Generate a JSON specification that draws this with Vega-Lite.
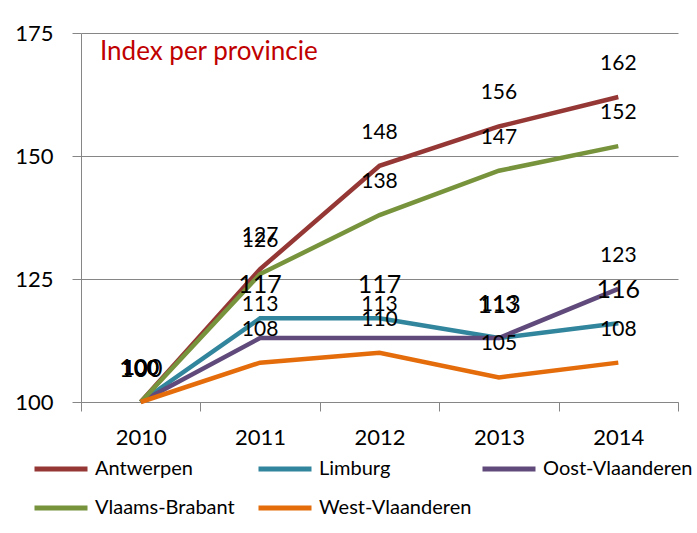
{
  "$schema": "https://vega.github.io/schema/vega-lite/v6.json",
  "width": 597,
  "height": 369,
  "autosize": "none",
  "padding": {"left": 81, "top": 33, "right": 19, "bottom": 131},
  "background": "white",
  "config": {
    "font": "Lato",
    "view": {"stroke": null}
  },
  "title": {
    "text": "Index per provincie",
    "color": "#C00000",
    "font": "Lato",
    "fontSize": 26,
    "fontWeight": "normal",
    "anchor": "start",
    "frame": "group",
    "baseline": "alphabetic",
    "offset": 0,
    "dx": 19,
    "dy": 64
  },
  "data": {
    "values": [
      {"jaar": "2010", "provincie": "Antwerpen", "index": 100},
      {"jaar": "2011", "provincie": "Antwerpen", "index": 127},
      {"jaar": "2012", "provincie": "Antwerpen", "index": 148},
      {"jaar": "2013", "provincie": "Antwerpen", "index": 156},
      {"jaar": "2014", "provincie": "Antwerpen", "index": 162},
      {"jaar": "2010", "provincie": "Limburg", "index": 100},
      {"jaar": "2011", "provincie": "Limburg", "index": 117},
      {"jaar": "2012", "provincie": "Limburg", "index": 117},
      {"jaar": "2013", "provincie": "Limburg", "index": 113},
      {"jaar": "2014", "provincie": "Limburg", "index": 116},
      {"jaar": "2010", "provincie": "Oost-Vlaanderen", "index": 100},
      {"jaar": "2011", "provincie": "Oost-Vlaanderen", "index": 113},
      {"jaar": "2012", "provincie": "Oost-Vlaanderen", "index": 113},
      {"jaar": "2013", "provincie": "Oost-Vlaanderen", "index": 113},
      {"jaar": "2014", "provincie": "Oost-Vlaanderen", "index": 123},
      {"jaar": "2010", "provincie": "Vlaams-Brabant", "index": 100},
      {"jaar": "2011", "provincie": "Vlaams-Brabant", "index": 126},
      {"jaar": "2012", "provincie": "Vlaams-Brabant", "index": 138},
      {"jaar": "2013", "provincie": "Vlaams-Brabant", "index": 147},
      {"jaar": "2014", "provincie": "Vlaams-Brabant", "index": 152},
      {"jaar": "2010", "provincie": "West-Vlaanderen", "index": 100},
      {"jaar": "2011", "provincie": "West-Vlaanderen", "index": 108},
      {"jaar": "2012", "provincie": "West-Vlaanderen", "index": 110},
      {"jaar": "2013", "provincie": "West-Vlaanderen", "index": 105},
      {"jaar": "2014", "provincie": "West-Vlaanderen", "index": 108}
    ]
  },
  "encoding": {
    "x": {
      "field": "jaar",
      "type": "ordinal",
      "bandPosition": 0.5,
      "scale": {"type": "band", "paddingInner": 0, "paddingOuter": 0},
      "axis": {
        "title": null,
        "labelAngle": 0,
        "labelFont": "Lato",
        "labelFontSize": 22,
        "labelColor": "#000000",
        "labelPadding": 16,
        "tickBand": "extent",
        "tickSize": 9,
        "tickColor": "#868686",
        "domainColor": "#868686",
        "grid": false
      }
    },
    "y": {
      "field": "index",
      "type": "quantitative",
      "scale": {"domain": [100, 175], "nice": false, "zero": false},
      "axis": {
        "title": null,
        "values": [100, 125, 150, 175],
        "labelFont": "Lato",
        "labelFontSize": 22,
        "labelColor": "#000000",
        "labelPadding": 19,
        "tickSize": 9,
        "tickColor": "#868686",
        "domainColor": "#868686",
        "gridColor": "#868686",
        "grid": true
      }
    }
  },
  "layer": [
    {
      "mark": {"type": "line", "strokeWidth": 4.5, "strokeCap": "butt", "strokeJoin": "miter"},
      "encoding": {
        "color": {
          "field": "provincie",
          "type": "nominal",
          "scale": {
            "domain": ["Antwerpen", "Limburg", "Oost-Vlaanderen", "Vlaams-Brabant", "West-Vlaanderen"],
            "range": ["#953735", "#31859C", "#604A7B", "#77933C", "#E46C0A"]
          },
          "legend": {
            "title": null,
            "orient": "none",
            "legendX": -49,
            "legendY": 407,
            "direction": "horizontal",
            "columns": 3,
            "gridAlign": "all",
            "columnPadding": 0,
            "rowPadding": -27,
            "padding": 0,
            "symbolType": "stroke",
            "symbolSize": 2809,
            "symbolStrokeWidth": 5,
            "labelFont": "Lato",
            "labelFontSize": 20,
            "labelColor": "#000000",
            "labelOffset": 5,
            "labelLimit": 300
          }
        }
      }
    },
    {
      "mark": {"type": "text", "dy": -33, "baseline": "middle", "align": "center", "font": "Lato", "color": "#000000"},
      "encoding": {
        "text": {"field": "index", "type": "quantitative"},
        "detail": {"field": "provincie", "type": "nominal"},
        "size": {
          "condition": {"test": "datum.provincie === 'Limburg'", "value": 25},
          "value": 21
        }
      }
    }
  ]
}
